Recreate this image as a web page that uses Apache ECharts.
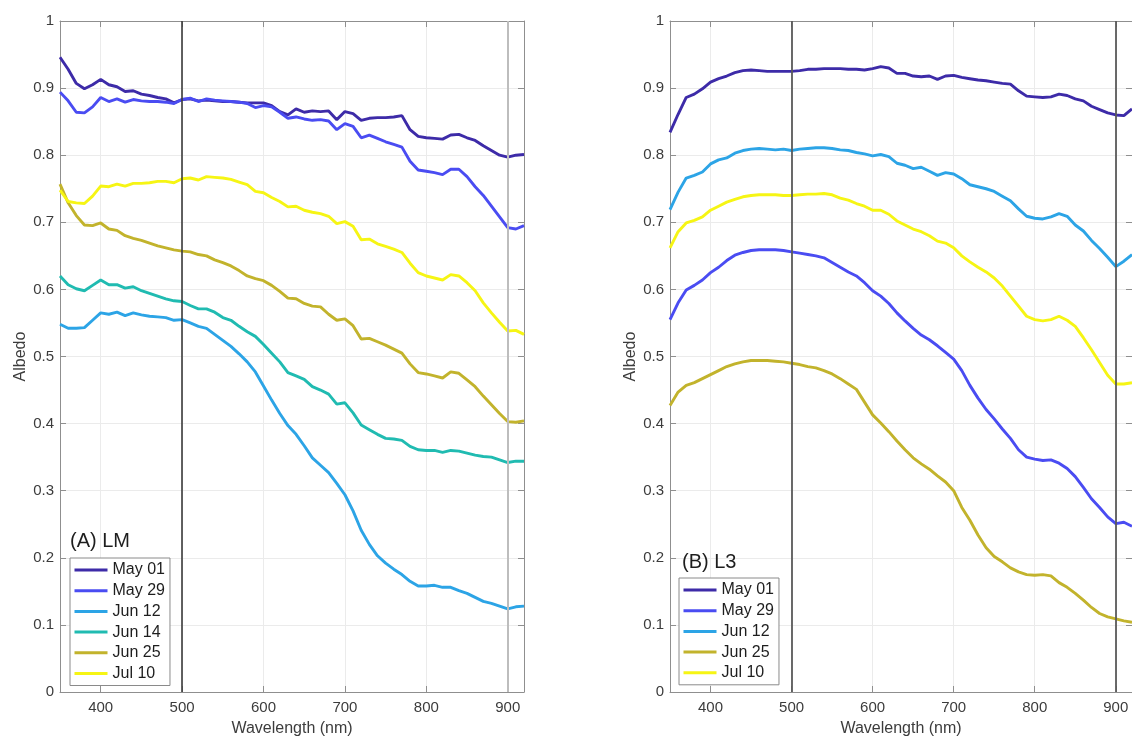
<!DOCTYPE html>
<html>
<head>
<meta charset="utf-8">
<title>Albedo spectra</title>
<script src="https://cdn.jsdelivr.net/npm/echarts@6/dist/echarts.min.js"></script>
<style>
  html, body { margin: 0; padding: 0; background: #fff; }
  #chart { width: 1132px; height: 742px; }
</style>
</head>
<body>
<div id="chart"></div>
<script>
const wavelengths = [
  350, 360, 370, 380, 390, 400, 410, 420, 430, 440,
  450, 460, 470, 480, 490, 500, 510, 520, 530, 540,
  550, 560, 570, 580, 590, 600, 610, 620, 630, 640,
  650, 660, 670, 680, 690, 700, 710, 720, 730, 740,
  750, 760, 770, 780, 790, 800, 810, 820, 830, 840,
  850, 860, 870, 880, 890, 900, 910, 920
];
const xTicks = [400, 500, 600, 700, 800, 900];

// (A) LM
const lmMay01 = [
  .946, .928, .907, .899, .905, .913, .905, .902, .895, .896,
  .891, .889, .886, .884, .878, .883, .884, .881, .882, .881,
  .880, .880, .879, .878, .878, .878, .874, .865, .860, .869,
  .864, .866, .865, .866, .853, .865, .862, .852, .855, .856,
  .856, .857, .859, .838, .828, .826, .825, .824, .830, .831,
  .826, .822, .814, .807, .800, .797, .800, .801
];
const lmMay29 = [
  .894, .881, .864, .863, .872, .886, .880, .884, .879, .883,
  .881, .880, .880, .879, .877, .883, .885, .880, .884, .882,
  .881, .880, .879, .877, .871, .874, .872, .864, .855, .857,
  .854, .852, .853, .851, .838, .847, .843, .826, .830, .825,
  .820, .816, .812, .791, .778, .776, .774, .771, .779, .779,
  .768, .753, .740, .724, .708, .692, .690, .695
];
const lmJun12 = [
  .548, .542, .542, .543, .554, .565, .563, .566, .561, .565,
  .562, .560, .559, .558, .554, .555, .550, .545, .542, .533,
  .524, .515, .504, .492, .477, .456, .435, .415, .397, .384,
  .367, .349, .338, .327, .311, .294, .270, .241, .220, .203,
  .192, .183, .175, .165, .158, .158, .159, .156, .156, .151,
  .147, .141, .135, .132, .128, .124, .127, .128
];
const lmJun14 = [
  .620, .607, .601, .598, .606, .614, .607, .607, .602, .604,
  .598, .594, .590, .586, .583, .582, .576, .571, .571, .566,
  .558, .554, .545, .537, .530, .518, .505, .492, .476, .471,
  .466, .455, .450, .444, .429, .431, .416, .398, .391, .384,
  .378, .377, .375, .366, .361, .360, .360, .357, .360, .359,
  .356, .353, .351, .350, .346, .342, .344, .344
];
const lmJun25 = [
  .757, .729, .710, .696, .695, .699, .690, .688, .680, .676,
  .673, .669, .665, .662, .659, .657, .656, .652, .650, .644,
  .640, .635, .628, .620, .616, .613, .606, .597, .587, .586,
  .579, .575, .574, .563, .554, .556, .546, .526, .527, .522,
  .517, .511, .505, .489, .476, .474, .471, .468, .477, .475,
  .465, .455, .441, .428, .415, .403, .402, .404
];
const lmJul10 = [
  .748, .731, .729, .728, .739, .754, .753, .757, .754, .758,
  .758, .759, .761, .761, .759, .765, .766, .763, .768, .767,
  .766, .764, .760, .756, .746, .744, .737, .731, .723, .724,
  .718, .715, .713, .709, .698, .701, .694, .674, .675, .668,
  .664, .660, .655, .639, .625, .620, .617, .614, .622, .620,
  .610, .598, .580, .565, .551, .538, .539, .533
];

// (B) L3
const l3May01 = [
  .834, .861, .886, .891, .899, .909, .914, .918, .923, .926,
  .927, .926, .925, .925, .925, .925, .926, .928, .928, .929,
  .929, .929, .928, .928, .927, .929, .932, .930, .922, .922,
  .918, .917, .918, .913, .918, .919, .916, .914, .912, .911,
  .909, .907, .906, .896, .888, .887, .886, .887, .891, .889,
  .884, .881, .873, .868, .863, .860, .859, .869
];
const l3May29 = [
  .555, .580, .599, .606, .614, .625, .633, .643, .651, .655,
  .658, .659, .659, .659, .658, .656, .654, .652, .650, .647,
  .640, .633, .626, .620, .610, .598, .590, .579, .565, .553,
  .542, .532, .525, .516, .506, .496, .479, .457, .438, .421,
  .407, .392, .378, .361, .350, .347, .345, .346, .341, .333,
  .321, .305, .288, .275, .261, .251, .253, .247
];
const l3Jun12 = [
  .719, .745, .766, .770, .775, .787, .793, .796, .803, .807,
  .809, .810, .809, .808, .809, .807, .809, .810, .811, .811,
  .810, .808, .807, .804, .802, .799, .801, .798, .788, .785,
  .780, .782, .776, .770, .774, .772, .765, .756, .753, .750,
  .746, .739, .732, .720, .709, .706, .705, .708, .713, .709,
  .696, .687, .673, .661, .648, .634, .642, .652
];
const l3Jun25 = [
  .427, .447, .457, .461, .467, .473, .479, .485, .489, .492,
  .494, .494, .494, .493, .492, .490, .488, .485, .483, .479,
  .474, .467, .459, .451, .432, .413, .401, .388, .374, .361,
  .349, .340, .332, .322, .313, .300, .275, .256, .234, .215,
  .202, .194, .185, .179, .175, .174, .175, .173, .163, .156,
  .147, .137, .126, .117, .112, .109, .106, .104
];
const l3Jul10 = [
  .662, .686, .699, .703, .708, .718, .724, .730, .734, .738,
  .740, .741, .741, .741, .740, .740, .741, .742, .742, .743,
  .741, .736, .733, .728, .724, .718, .718, .712, .702, .696,
  .690, .686, .680, .672, .669, .662, .650, .641, .633, .626,
  .617, .605, .590, .575, .560, .555, .553, .555, .560, .554,
  .545, .528, .510, .491, .472, .459, .459, .461
];

const colors = {
  "May 01": "#3d2ba8",
  "May 29": "#4a4cf2",
  "Jun 12": "#2ca4e6",
  "Jun 14": "#20bbb1",
  "Jun 25": "#c2b32c",
  "Jul 10": "#f6f514"
};

const panelA = [
  ["May 01", lmMay01], ["May 29", lmMay29], ["Jun 12", lmJun12],
  ["Jun 14", lmJun14], ["Jun 25", lmJun25], ["Jul 10", lmJul10]
];
const panelB = [
  ["May 01", l3May01], ["May 29", l3May29], ["Jun 12", l3Jun12],
  ["Jun 25", l3Jun25], ["Jul 10", l3Jul10]
];

const axisGray = "#8f8f8f";
const labelGray = "#3c3c3c";
const font = "Liberation Sans, Arial, Helvetica, sans-serif";

const chart = echarts.init(document.getElementById("chart"), null, { renderer: "canvas" });

function makeSeries(panel, axisIdx, vlines) {
  return panel.map(([name, vals], i) => {
    const s = {
      name: name,
      type: "line",
      xAxisIndex: axisIdx,
      yAxisIndex: axisIdx,
      data: wavelengths.map((w, k) => [w, vals[k]]),
      symbol: "none",
      lineStyle: { color: colors[name], width: 2.9 },
      itemStyle: { color: colors[name] },
      animation: false
    };
    // vertical reference lines ride on the first series of each panel
    if (i === 0) {
      s.markLine = {
        silent: true,
        symbol: ["none", "none"],
        label: { show: false },
        animation: false,
        data: vlines
      };
    }
    return s;
  });
}

function bottomX(gridIndex) {
  return {
    gridIndex, type: "value", min: 350, max: 920, position: "bottom",
    axisLine: { show: true, onZero: false, lineStyle: { color: axisGray, width: 1 } },
    axisTick: { show: true, inside: true, length: 6, customValues: xTicks, lineStyle: { color: axisGray } },
    axisLabel: { customValues: xTicks, color: labelGray, fontSize: 15, margin: 8, fontFamily: font },
    splitLine: { show: true, lineStyle: { color: "#ebebeb", width: 1 } },
    name: "Wavelength (nm)", nameLocation: "middle", nameGap: 29,
    nameTextStyle: { fontSize: 16, color: labelGray, fontFamily: font }
  };
}
function topX(gridIndex) {
  return {
    gridIndex, type: "value", min: 350, max: 920, position: "top",
    axisLine: { show: true, onZero: false, lineStyle: { color: axisGray, width: 1 } },
    axisTick: { show: true, inside: true, length: 6, customValues: xTicks, lineStyle: { color: axisGray } },
    axisLabel: { show: false }, splitLine: { show: false }
  };
}
function leftY(gridIndex) {
  return {
    gridIndex, type: "value", min: 0, max: 1, interval: 0.1, position: "left",
    axisLine: { show: true, onZero: false, lineStyle: { color: axisGray, width: 1 } },
    axisTick: { show: true, inside: true, length: 6, lineStyle: { color: axisGray } },
    axisLabel: { color: labelGray, fontSize: 15, margin: 6, fontFamily: font },
    splitLine: { show: true, lineStyle: { color: "#ebebeb", width: 1 } },
    name: "Albedo", nameLocation: "middle", nameGap: 31, nameRotate: 90,
    nameTextStyle: { fontSize: 16, color: labelGray, fontFamily: font }
  };
}
function rightY(gridIndex) {
  return {
    gridIndex, type: "value", min: 0, max: 1, interval: 0.1, position: "right",
    axisLine: { show: true, onZero: false, lineStyle: { color: axisGray, width: 1 } },
    axisTick: { show: true, inside: true, length: 6, lineStyle: { color: axisGray } },
    axisLabel: { show: false }, splitLine: { show: false }
  };
}

const legendBase = {
  orient: "vertical",
  itemWidth: 33,
  itemHeight: 16,
  itemGap: 4.7,
  padding: [4, 5, 4, 3],
  borderColor: "#8a8a8a",
  borderWidth: 1,
  backgroundColor: "#ffffff",
  selectedMode: false,
  itemStyle: { opacity: 0 },
  lineStyle: { width: 3 },
  textStyle: { fontSize: 16, color: "#1e1e1e", fontFamily: font }
};

const option = {
  backgroundColor: "#ffffff",
  animation: false,
  textStyle: { fontFamily: font },
  grid: [
    { left: 60, top: 21, width: 464, height: 673 },
    { left: 670, top: 21, width: 464, height: 673 }
  ],
  title: [
    { text: "(A) LM", left: 70, top: 531, padding: 0,
      textStyle: { fontSize: 20, fontWeight: "normal", color: "#1e1e1e", fontFamily: font } },
    { text: "(B) L3", left: 682, top: 552, padding: 0,
      textStyle: { fontSize: 20, fontWeight: "normal", color: "#1e1e1e", fontFamily: font } }
  ],
  legend: [
    Object.assign({}, legendBase, { left: 70, top: 558, data: panelA.map(p => p[0]) }),
    Object.assign({}, legendBase, { left: 679, top: 578, data: panelB.map(p => p[0]) })
  ],
  xAxis: [bottomX(0), topX(0), bottomX(1), topX(1)],
  yAxis: [leftY(0), rightY(0), leftY(1), rightY(1)],
  series: [
    ...makeSeries(panelA, 0, [
      { xAxis: 500, lineStyle: { color: "#3a3a3a", width: 1.6, type: "solid" } },
      { xAxis: 900, lineStyle: { color: "#bdbdbd", width: 2, type: "solid" } }
    ]),
    ...makeSeries(panelB, 2, [
      { xAxis: 500, lineStyle: { color: "#5a5a5a", width: 1.8, type: "solid" } },
      { xAxis: 900, lineStyle: { color: "#5a5a5a", width: 1.8, type: "solid" } }
    ])
  ]
};

chart.setOption(option);
window.addEventListener("resize", () => chart.resize());
</script>
</body>
</html>
